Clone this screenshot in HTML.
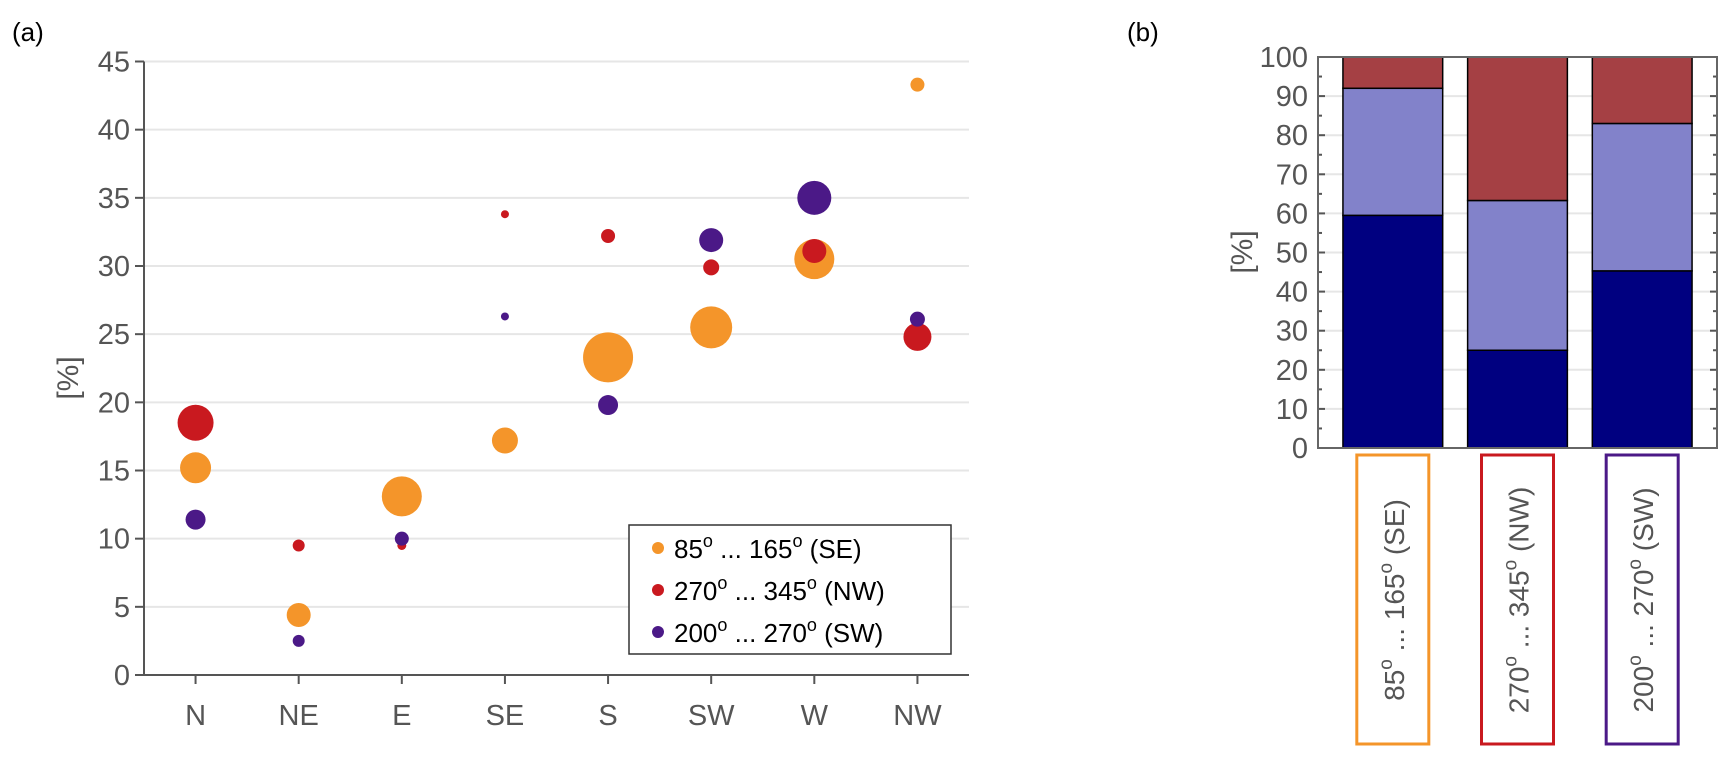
<!DOCTYPE html>
<html><head><meta charset="utf-8"><style>
body{margin:0;background:#fff;width:1734px;height:761px;overflow:hidden}
svg{display:block;font-family:"Liberation Sans",sans-serif}
</style></head><body>
<svg id="s" width="1734" height="761">
<text x="12" y="41" font-size="26" fill="#000">(a)</text>
<text x="1127" y="41" font-size="26" fill="#000">(b)</text>
</svg>
<script>
const NS='http://www.w3.org/2000/svg';
const svg=document.getElementById('s');
function mk(tag,attrs,parent){const e=document.createElementNS(NS,tag);for(const k in attrs)e.setAttribute(k,attrs[k]);(parent||svg).appendChild(e);return e;}

// ---------- Panel (a) data ----------
const categories=['N','NE','E','SE','S','SW','W','NW'];
const seValues=[15.2,4.4,13.1,17.2,23.3,25.5,30.5,43.3];
const seSizes=[15.5,12,20,13,25,21,20,7];
const nwValues=[18.5,9.5,9.5,33.8,32.2,29.9,31.1,24.8];
const nwSizes=[18,6,4.5,4,7,8,12,14];
const swValues=[11.4,2.5,10.0,26.3,19.8,31.9,35.0,26.1];
const swSizes=[10,6,7,4,10,12,17,7.5];
const yTicksA=[0,5,10,15,20,25,30,35,40,45];

const A={x0:144,x1:969,y0:675,y1:61.5,xmin:0.5,xmax:8.5,ymin:0,ymax:45};
const ax=i=>A.x0+(i+1-A.xmin)/(A.xmax-A.xmin)*(A.x1-A.x0);
const ay=v=>A.y0-(v-A.ymin)/(A.ymax-A.ymin)*(A.y0-A.y1);

const gA=mk('g',{});


yTicksA.forEach(t=>{
  const y=ay(t);
  if(t>0){const gl=mk('line',{x1:A.x0,x2:A.x1,y1:y,y2:y,stroke:'#e6e6e6','stroke-width':2},gA);
  }
  const tk=mk('line',{x1:A.x0-9,x2:A.x0,y1:y,y2:y,stroke:'#555','stroke-width':2},gA);
  
  const tx=mk('text',{x:A.x0-14,y:y+10,'text-anchor':'end','font-size':29,fill:'#555'},gA);
  tx.textContent=t;
  
});
categories.forEach((c,i)=>{
  const x=ax(i);
  const tk=mk('line',{x1:x,x2:x,y1:A.y0,y2:A.y0+9,stroke:'#555','stroke-width':2},gA);
  
  const tx=mk('text',{x:x,y:A.y0+50,'text-anchor':'middle','font-size':29,fill:'#555'},gA);
  tx.textContent=c;
  
});
let axl=mk('line',{x1:A.x0,x2:A.x0,y1:A.y1,y2:A.y0,stroke:'#555','stroke-width':2},gA);

axl=mk('line',{x1:A.x0-9,x2:A.x1,y1:A.y0,y2:A.y0,stroke:'#555','stroke-width':2},gA);

const yl=mk('text',{x:0,y:0,transform:'translate(78,378) rotate(-90)','text-anchor':'middle','font-size':30,fill:'#555'},gA);
yl.textContent='[%]';


const series=[[seValues,seSizes,'#f4952a','se'],[nwValues,nwSizes,'#c9191f','nw'],[swValues,swSizes,'#4b1987','sw']];
series.forEach(([vals,sz,col,nm])=>{
  vals.forEach((v,i)=>{
    const c=mk('circle',{cx:ax(i),cy:ay(v),r:sz[i],fill:col},gA);
    
    
  });
});
// legend
const lg=mk('g',{},gA);


mk('rect',{x:629,y:525,width:322,height:129,fill:'#fff',stroke:'#333','stroke-width':1.5},lg);
const legTexts=[['85','165','SE','#f4952a'],['270','345','NW','#c9191f'],['200','270','SW','#4b1987']];
legTexts.forEach((L,k)=>{
  const y=548+k*42;
  const d=mk('circle',{cx:658,cy:y,r:6,fill:L[3]},lg);
  
  const t=mk('text',{x:674,y:y+10,'font-size':26,fill:'#000'},lg);
  t.innerHTML=L[0]+'<tspan dy="-11" font-size="18">o</tspan><tspan dy="11"> ... '+L[1]+'</tspan><tspan dy="-11" font-size="18">o</tspan><tspan dy="11"> ('+L[2]+')</tspan>';
  
});

// ---------- Panel (b) data ----------
const barGroups=['SE','NW','SW'];
const darkValues=[59.5,25.0,45.3];
const lightValues=[32.5,38.3,37.7];
const redValues=[8.0,36.7,17.0];
const yTicksB=[0,10,20,30,40,50,60,70,80,90,100];

const B={x0:1318,x1:1717,y0:448,y1:57,xmin:0.4,xmax:3.6,ymin:0,ymax:100};
const bx=i=>B.x0+(i+1-B.xmin)/(B.xmax-B.xmin)*(B.x1-B.x0);
const by=v=>B.y0-(v-B.ymin)/(B.ymax-B.ymin)*(B.y0-B.y1);
const bwUnits=0.8;
const gB=mk('g',{});


yTicksB.forEach(t=>{
  const y=by(t);
  if(t>0&&t<100){const gl=mk('line',{x1:B.x0,x2:B.x1,y1:y,y2:y,stroke:'#e6e6e6','stroke-width':2},gB);
  }
  const tx=mk('text',{x:B.x0-10,y:y+10,'text-anchor':'end','font-size':29,fill:'#555'},gB);
  tx.textContent=t;
  
});
const bwPx=bwUnits/(B.xmax-B.xmin)*(B.x1-B.x0);
barGroups.forEach((g,i)=>{
  const cx=bx(i);
  const segs=[[0,darkValues[i],'#000080','dark'],[darkValues[i],lightValues[i],'#8282ca','light'],[darkValues[i]+lightValues[i],redValues[i],'#a54044','red']];
  segs.forEach(([base,h,col,nm])=>{
    const r=mk('rect',{x:cx-bwPx/2,y:by(base+h),width:bwPx,height:by(base)-by(base+h),fill:col,stroke:'#000','stroke-width':1.5},gB);
    
    
  });
});
for(let t=0;t<=100;t+=5){
  const y=by(t),len=(t%10===0)?7:4;
  mk('line',{x1:B.x0,x2:B.x0+len,y1:y,y2:y,stroke:'#555','stroke-width':2},gB);
  mk('line',{x1:B.x1-len,x2:B.x1,y1:y,y2:y,stroke:'#555','stroke-width':2},gB);
}
const fr=mk('rect',{x:B.x0,y:B.y1,width:B.x1-B.x0,height:B.y0-B.y1,fill:'none',stroke:'#666','stroke-width':2},gB);

const yl2=mk('text',{x:0,y:0,transform:'translate(1252,252) rotate(-90)','text-anchor':'middle','font-size':30,fill:'#555'},gB);
yl2.textContent='[%]';

const boxCols=['#f4952a','#c9191f','#4b1987'];
const boxTexts=[['85','165','SE'],['270','345','NW'],['200','270','SW']];
barGroups.forEach((g,i)=>{
  const cx=bx(i);
  const r=mk('rect',{x:cx-36,y:455,width:72,height:289,fill:'#fff',stroke:boxCols[i],'stroke-width':3},gB);
  
  const L=boxTexts[i];
  const t=mk('text',{x:0,y:0,transform:'translate('+(cx+11)+',600) rotate(-90)','text-anchor':'middle','font-size':28,fill:'#555'},gB);
  t.innerHTML=L[0]+'<tspan dy="-12" font-size="19">o</tspan><tspan dy="12"> ... '+L[1]+'</tspan><tspan dy="-12" font-size="19">o</tspan><tspan dy="12"> ('+L[2]+')</tspan>';
  
});
</script>
</body></html>
